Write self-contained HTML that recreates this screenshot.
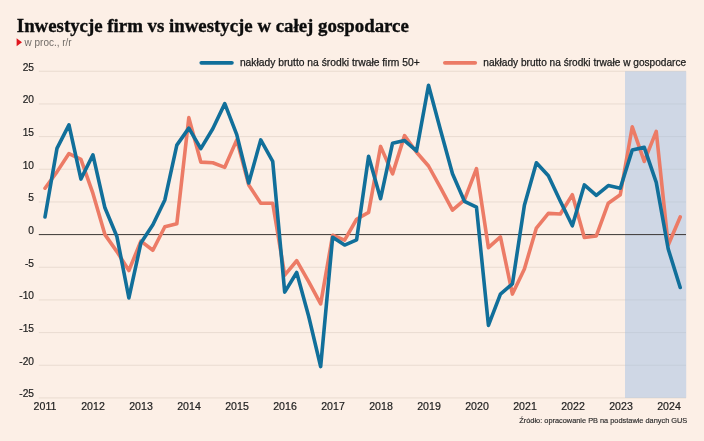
<!DOCTYPE html>
<html lang="pl"><head><meta charset="utf-8"><title>Inwestycje firm vs inwestycje w całej gospodarce</title>
<style>
html,body{margin:0;padding:0;background:#fcefe6;}
body{width:704px;height:441px;overflow:hidden;position:relative;}
svg{position:absolute;left:0;top:0;display:block}
text{font-family:"Liberation Sans","DejaVu Sans",sans-serif;fill:#2b2b2b}
.ax{font-size:10.2px;fill:#222;stroke:#222;stroke-width:0.2px}
.title{font-family:"Liberation Serif","DejaVu Serif",serif;font-weight:bold;font-size:18.6px;fill:#0d0d0d;stroke:#0d0d0d;stroke-width:0.35px}
.sub{font-size:10.3px;fill:#6f6a66}
.leg{font-size:10.2px;fill:#1c1c1c;stroke:#1c1c1c;stroke-width:0.25px}
.src{font-size:7.6px;fill:#2a2a2a;stroke:#2a2a2a;stroke-width:0.15px}
</style></head><body>
<svg width="704" height="441" viewBox="0 0 704 441">
<rect x="0" y="0" width="704" height="441" fill="#fcefe6"/>
<text x="16.8" y="31.6" class="title" textLength="392" lengthAdjust="spacingAndGlyphs">Inwestycje firm vs inwestycje w całej gospodarce</text>
<polygon points="16.6,38.3 22,42.3 16.6,46.3" fill="#e0161e"/>
<text x="24.6" y="45.6" class="sub" textLength="47" lengthAdjust="spacingAndGlyphs">w proc., r/r</text>
<line x1="38.8" x2="686" y1="71.27" y2="71.27" stroke="#e9dbd1" stroke-width="1"/>
<line x1="38.8" x2="686" y1="103.94" y2="103.94" stroke="#e9dbd1" stroke-width="1"/>
<line x1="38.8" x2="686" y1="136.60" y2="136.60" stroke="#e9dbd1" stroke-width="1"/>
<line x1="38.8" x2="686" y1="169.27" y2="169.27" stroke="#e9dbd1" stroke-width="1"/>
<line x1="38.8" x2="686" y1="201.94" y2="201.94" stroke="#e9dbd1" stroke-width="1"/>
<line x1="38.8" x2="686" y1="267.26" y2="267.26" stroke="#e9dbd1" stroke-width="1"/>
<line x1="38.8" x2="686" y1="299.93" y2="299.93" stroke="#e9dbd1" stroke-width="1"/>
<line x1="38.8" x2="686" y1="332.60" y2="332.60" stroke="#e9dbd1" stroke-width="1"/>
<line x1="38.8" x2="686" y1="365.26" y2="365.26" stroke="#e9dbd1" stroke-width="1"/>
<line x1="38.8" x2="686" y1="397.93" y2="397.93" stroke="#e9dbd1" stroke-width="1"/>

<rect x="625" y="71.3" width="61.2" height="326.6" fill="#a2bfe4" fill-opacity="0.5"/>
<line x1="38.8" x2="686" y1="234.6" y2="234.6" stroke="#3a3633" stroke-width="1"/>
<text x="34" y="70.77" text-anchor="end" class="ax">25</text>
<text x="34" y="103.44" text-anchor="end" class="ax">20</text>
<text x="34" y="136.10" text-anchor="end" class="ax">15</text>
<text x="34" y="168.77" text-anchor="end" class="ax">10</text>
<text x="34" y="201.44" text-anchor="end" class="ax">5</text>
<text x="34" y="234.10" text-anchor="end" class="ax">0</text>
<text x="34" y="266.76" text-anchor="end" class="ax">-5</text>
<text x="34" y="299.43" text-anchor="end" class="ax">-10</text>
<text x="34" y="332.10" text-anchor="end" class="ax">-15</text>
<text x="34" y="364.76" text-anchor="end" class="ax">-20</text>
<text x="34" y="397.43" text-anchor="end" class="ax">-25</text>
<text x="45" y="410.3" text-anchor="middle" class="ax" style="font-size:10.6px">2011</text>
<text x="93" y="410.3" text-anchor="middle" class="ax" style="font-size:10.6px">2012</text>
<text x="141" y="410.3" text-anchor="middle" class="ax" style="font-size:10.6px">2013</text>
<text x="189" y="410.3" text-anchor="middle" class="ax" style="font-size:10.6px">2014</text>
<text x="237" y="410.3" text-anchor="middle" class="ax" style="font-size:10.6px">2015</text>
<text x="285" y="410.3" text-anchor="middle" class="ax" style="font-size:10.6px">2016</text>
<text x="333" y="410.3" text-anchor="middle" class="ax" style="font-size:10.6px">2017</text>
<text x="381" y="410.3" text-anchor="middle" class="ax" style="font-size:10.6px">2018</text>
<text x="429" y="410.3" text-anchor="middle" class="ax" style="font-size:10.6px">2019</text>
<text x="477" y="410.3" text-anchor="middle" class="ax" style="font-size:10.6px">2020</text>
<text x="525" y="410.3" text-anchor="middle" class="ax" style="font-size:10.6px">2021</text>
<text x="573" y="410.3" text-anchor="middle" class="ax" style="font-size:10.6px">2022</text>
<text x="621" y="410.3" text-anchor="middle" class="ax" style="font-size:10.6px">2023</text>
<text x="669" y="410.3" text-anchor="middle" class="ax" style="font-size:10.6px">2024</text>

<polyline points="45.00,188.22 56.98,171.88 68.97,153.59 80.95,159.47 92.94,193.44 104.92,234.60 116.91,251.59 128.89,270.53 140.88,241.13 152.87,250.28 164.85,226.76 176.83,223.82 188.82,117.66 200.81,162.08 212.79,162.74 224.77,167.31 236.76,139.87 248.75,184.95 260.73,203.24 272.71,203.24 284.70,275.10 296.69,260.73 308.67,281.64 320.65,303.85 332.64,235.25 344.62,240.15 356.61,219.25 368.59,212.39 380.58,146.40 392.56,173.84 404.55,135.63 416.53,152.28 428.52,166.00 440.50,187.56 452.49,210.10 464.47,199.98 476.46,168.62 488.44,247.67 500.43,236.89 512.41,294.05 524.40,268.90 536.38,228.07 548.37,213.37 560.36,214.02 572.34,194.75 584.32,237.54 596.31,235.91 608.29,203.24 620.28,194.75 632.26,126.81 644.25,161.43 656.24,131.38 668.22,245.05 680.20,216.96" fill="none" stroke="#ec7b66" stroke-width="3.6" stroke-linejoin="round" stroke-linecap="round"/>
<polyline points="45.00,216.96 56.98,148.36 68.97,124.85 80.95,179.07 92.94,154.90 104.92,207.81 116.91,236.56 128.89,297.97 140.88,243.09 152.87,224.80 164.85,199.98 176.83,145.10 188.82,128.11 200.81,148.69 212.79,128.77 224.77,103.61 236.76,134.65 248.75,182.99 260.73,139.87 272.71,161.43 284.70,292.09 296.69,272.49 308.67,316.26 320.65,366.57 332.64,237.21 344.62,245.05 356.61,239.83 368.59,156.20 380.58,198.67 392.56,143.14 404.55,140.52 416.53,150.98 428.52,85.32 440.50,130.07 452.49,173.84 464.47,201.28 476.46,207.16 488.44,325.41 500.43,294.05 512.41,283.92 524.40,205.20 536.38,162.74 548.37,175.80 560.36,201.28 572.34,225.78 584.32,184.95 596.31,195.40 608.29,185.60 620.28,188.22 632.26,150.00 644.25,147.38 656.24,182.34 668.22,248.97 680.20,287.52" fill="none" stroke="#116f9a" stroke-width="3.6" stroke-linejoin="round" stroke-linecap="round"/>
<line x1="201.3" x2="231.9" y1="62.8" y2="62.8" stroke="#116f9a" stroke-width="3.8" stroke-linecap="round"/>
<text x="239.9" y="65.6" class="leg" textLength="179.8" lengthAdjust="spacingAndGlyphs">nakłady brutto na środki trwałe firm 50+</text>
<line x1="444.9" x2="475.2" y1="62.8" y2="62.8" stroke="#ec7b66" stroke-width="3.8" stroke-linecap="round"/>
<text x="483.3" y="65.6" class="leg" textLength="202.8" lengthAdjust="spacingAndGlyphs">nakłady brutto na środki trwałe w gospodarce</text>
<text x="519.3" y="422.8" class="src" textLength="168" lengthAdjust="spacingAndGlyphs">Źródło: opracowanie PB na podstawie danych GUS</text>
</svg>
</body></html>
